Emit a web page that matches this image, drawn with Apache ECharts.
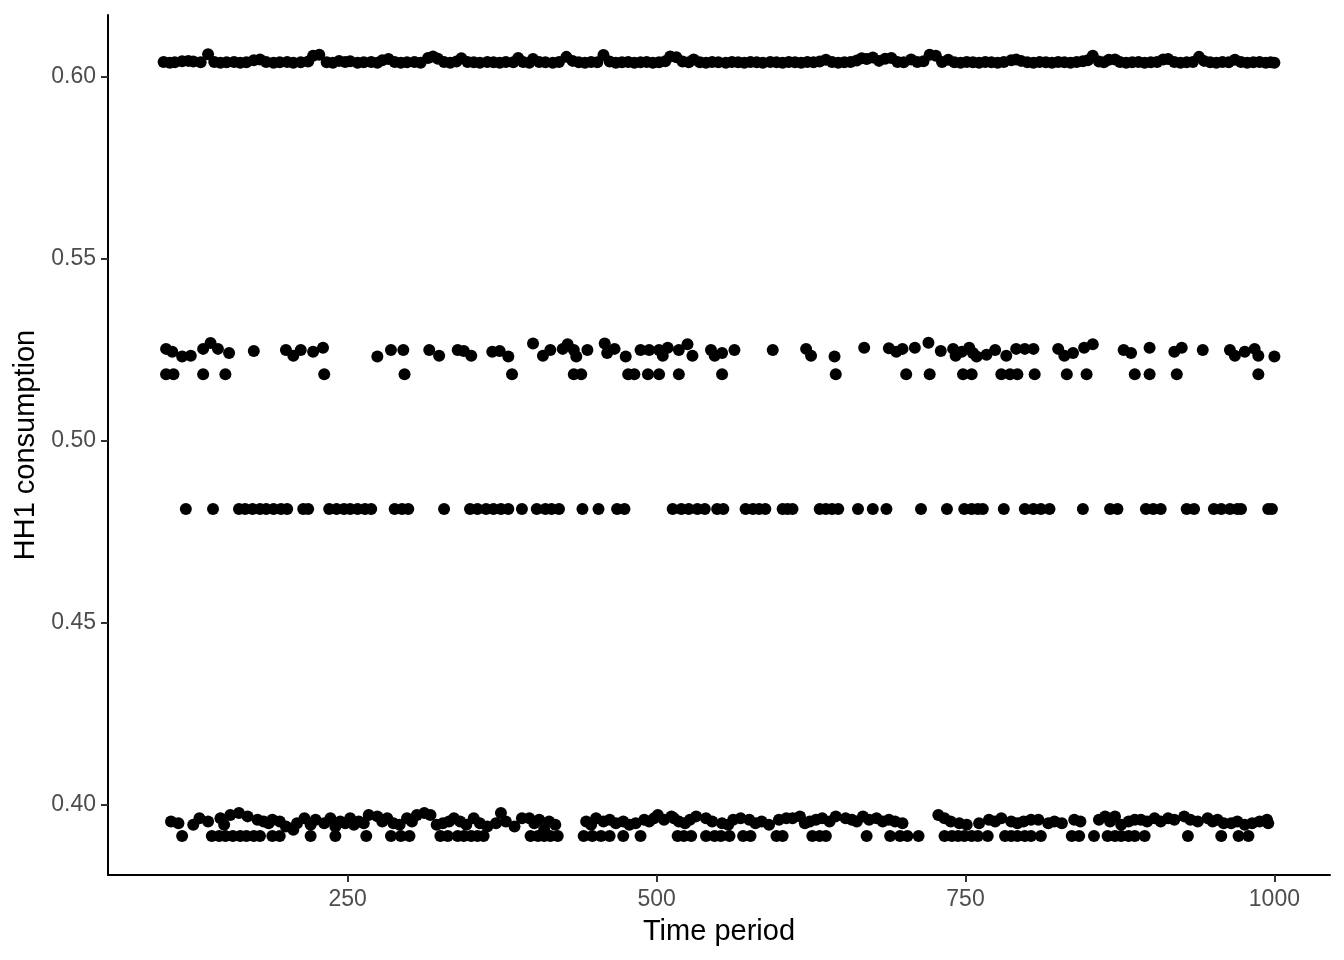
<!DOCTYPE html>
<html><head><meta charset="utf-8">
<script src="https://cdn.jsdelivr.net/npm/echarts@6/dist/echarts.min.js"></script>
<style>html,body{margin:0;padding:0;background:#fff}#c{width:1344px;height:960px}</style>
</head><body><div id="c"></div>
<script>
// Tick labels
const xTicks = [250, 500, 750, 1000];
const yTicks = [0.40, 0.45, 0.50, 0.55, 0.60];

// Top band (~0.604)
const topX = [101,106,110,116,121,125,131,137,142,147,152,158,163,168,174,179,184,190,195,201,206,212,218,222,227,233,238,243,248,252,258,263,269,274,278,283,288,293,298,304,309,315,319,323,328,333,338,342,347,352,357,363,368,373,378,384,388,392,397,400,405,410,416,421,427,432,437,442,447,452,457,462,467,472,477,482,487,492,497,502,507,511,516,521,526,530,535,540,545,550,556,561,566,571,576,581,586,592,597,602,607,612,617,622,627,632,637,642,647,652,657,662,666,670,675,680,685,690,695,700,706,711,716,721,726,731,736,741,746,751,756,761,766,771,776,781,787,791,795,800,805,810,815,820,825,830,835,840,845,849,853,858,862,866,871,875,880,885,890,895,900,905,910,914,919,924,929,934,939,943,948,953,958,963,968,973,978,983,988,993,997,1000];
const topY = [.6041,.6039,.6040,.6043,.6044,.6042,.6040,.6062,.6041,.6039,.6040,.6041,.6039,.6040,.6046,.6048,.6041,.6039,.6040,.6041,.6039,.6040,.6042,.6058,.6061,.6040,.6039,.6044,.6041,.6043,.6039,.6040,.6041,.6039,.6046,.6049,.6041,.6039,.6040,.6041,.6039,.6052,.6056,.6050,.6041,.6039,.6042,.6051,.6041,.6040,.6039,.6041,.6040,.6039,.6041,.6040,.6052,.6041,.6039,.6049,.6041,.6040,.6039,.6041,.6055,.6044,.6040,.6039,.6041,.6040,.6060,.6042,.6039,.6040,.6041,.6039,.6040,.6041,.6039,.6040,.6043,.6056,.6054,.6042,.6040,.6048,.6040,.6039,.6041,.6040,.6039,.6041,.6040,.6039,.6041,.6040,.6039,.6041,.6040,.6039,.6041,.6040,.6039,.6041,.6040,.6042,.6047,.6041,.6039,.6040,.6041,.6045,.6051,.6049,.6053,.6044,.6050,.6052,.6041,.6040,.6048,.6041,.6043,.6061,.6058,.6041,.6047,.6040,.6039,.6041,.6040,.6039,.6041,.6040,.6039,.6041,.6046,.6048,.6044,.6040,.6039,.6041,.6040,.6039,.6041,.6040,.6039,.6041,.6043,.6046,.6058,.6042,.6040,.6047,.6048,.6041,.6039,.6040,.6041,.6039,.6040,.6041,.6048,.6049,.6041,.6039,.6040,.6041,.6055,.6044,.6040,.6039,.6041,.6040,.6047,.6041,.6039,.6040,.6041,.6039,.6040,.6039];

// Second band, upper row (~0.524)
const b2X = [103,108,116,123,133,139,145,154,174,200,206,212,222,230,274,285,295,316,324,339,344,350,367,373,380,400,408,414,424,428,433,435,444,458,460,466,475,487,494,502,505,509,518,525,529,544,547,553,563,594,621,625,644,668,688,694,699,709,720,730,740,742,747,753,756,759,767,774,783,791,798,805,825,830,837,846,853,878,884,899,919,925,942,964,968,976,984,987,1000];
const b2Y = [.5253,.5245,.5232,.5234,.5253,.5269,.5253,.5242,.5247,.5250,.5234,.5250,.5245,.5256,.5232,.5250,.5250,.5250,.5234,.5250,.5247,.5234,.5245,.5247,.5232,.5268,.5234,.5250,.5253,.5266,.5250,.5232,.5250,.5268,.5242,.5253,.5232,.5250,.5250,.5250,.5234,.5256,.5250,.5266,.5234,.5250,.5234,.5242,.5250,.5250,.5253,.5234,.5232,.5256,.5255,.5245,.5253,.5256,.5270,.5247,.5253,.5234,.5245,.5256,.5242,.5232,.5237,.5250,.5234,.5253,.5253,.5253,.5253,.5234,.5242,.5256,.5266,.5250,.5242,.5256,.5245,.5256,.5250,.5250,.5234,.5245,.5253,.5234,.5232];

// Second band, lower row
const b2LowLevel = 0.5183;
const b2LowX = [103,109,133,151,231,296,383,433,439,477,482,493,502,518,553,645,702,721,748,755,779,786,792,806,832,848,887,899,921,987];

// Third band (~0.481)
const b3Level = 0.4813;
const b3X = [119,141,162,167,173,179,184,190,196,201,214,218,235,241,247,252,258,264,269,288,294,299,328,349,355,362,368,374,380,391,403,410,415,421,440,453,468,474,513,520,526,533,539,549,554,572,578,583,588,602,606,610,632,637,642,647,663,675,686,714,735,749,755,760,764,781,798,805,811,818,845,867,873,896,902,908,929,935,951,957,964,970,973,995,998];

// Bottom band, upper rows (~0.394-0.398)
const b4X = [107,113,125,130,137,147,150,155,162,169,177,182,186,189,195,200,206,209,215,220,224,231,236,240,244,248,252,255,259,263,267,274,278,282,287,292,298,302,306,312,317,322,327,332,336,341,346,352,357,363,370,374,378,385,391,397,401,405,409,413,418,443,447,451,457,462,467,473,478,483,490,494,498,501,506,512,514,518,523,527,532,540,545,553,558,562,568,575,580,585,591,599,605,610,616,620,624,629,634,640,645,653,658,662,667,672,678,683,688,693,699,728,733,738,745,751,761,769,774,779,787,792,797,803,809,817,822,828,838,843,858,863,867,871,876,882,887,892,897,903,908,914,919,927,932,938,946,950,954,959,965,970,976,982,988,994,995];
const b4Y = [.3955,.3950,.3946,.3964,.3955,.3964,.3946,.3973,.3978,.3969,.3960,.3955,.3950,.3960,.3955,.3941,.3932,.3950,.3964,.3946,.3960,.3950,.3964,.3941,.3955,.3950,.3964,.3946,.3955,.3950,.3973,.3969,.3955,.3964,.3950,.3946,.3964,.3955,.3973,.3978,.3973,.3946,.3950,.3955,.3964,.3955,.3946,.3964,.3950,.3941,.3950,.3978,.3955,.3941,.3964,.3964,.3950,.3960,.3932,.3955,.3946,.3955,.3946,.3964,.3955,.3960,.3950,.3955,.3946,.3950,.3960,.3955,.3964,.3973,.3960,.3969,.3964,.3955,.3950,.3960,.3969,.3964,.3955,.3950,.3946,.3960,.3964,.3960,.3950,.3955,.3946,.3960,.3964,.3964,.3969,.3950,.3955,.3960,.3964,.3955,.3969,.3964,.3960,.3955,.3969,.3960,.3964,.3955,.3960,.3955,.3950,.3973,.3964,.3955,.3950,.3946,.3950,.3960,.3955,.3964,.3955,.3950,.3955,.3960,.3960,.3950,.3955,.3950,.3960,.3955,.3960,.3969,.3955,.3969,.3946,.3955,.3960,.3960,.3955,.3964,.3955,.3964,.3960,.3969,.3960,.3955,.3964,.3955,.3960,.3950,.3950,.3955,.3946,.3950,.3955,.3960,.3950];

// Bottom band, lower row
const b4LowLevel = 0.3915;
const b4LowX = [116,140,146,151,157,163,168,174,179,189,195,220,240,265,285,293,300,325,331,339,344,350,355,360,398,404,409,414,420,441,448,455,462,473,487,517,522,528,540,547,552,559,570,576,597,602,626,632,637,670,689,697,703,712,733,739,744,749,755,760,768,782,787,792,798,803,811,836,842,854,865,871,876,882,887,895,930,957,971,979];

const pts = [];
topX.forEach((x, i) => pts.push([x, topY[i]]));
b2X.forEach((x, i) => pts.push([x, b2Y[i]]));
b2LowX.forEach(x => pts.push([x, b2LowLevel]));
b3X.forEach(x => pts.push([x, b3Level]));
b4X.forEach((x, i) => pts.push([x, b4Y[i]]));
b4LowX.forEach(x => pts.push([x, b4LowLevel]));

const FONT = 'Liberation Sans, Arial, Helvetica, sans-serif';
const chart = echarts.init(document.getElementById('c'), null, {renderer: 'canvas'});
chart.setOption({
  animation: false,
  backgroundColor: '#ffffff',
  grid: {left: 108, right: 14, top: 15, bottom: 85, containLabel: false},
  xAxis: {
    type: 'value', min: 56, max: 1045,
    name: 'Time period', nameLocation: 'middle', nameGap: 42,
    nameTextStyle: {color: '#000', fontSize: 29, fontFamily: FONT},
    axisLine: {show: true, lineStyle: {color: '#000', width: 2}},
    axisTick: {show: true, customValues: xTicks, length: 7, lineStyle: {color: '#333', width: 2}},
    axisLabel: {customValues: xTicks, color: '#4d4d4d', fontSize: 23, fontFamily: FONT, margin: 13,
      formatter: v => String(Math.round(v))},
    splitLine: {show: false}
  },
  yAxis: {
    type: 'value', min: 0.3808, max: 0.6170,
    name: 'HH1 consumption', nameLocation: 'middle', nameGap: 63,
    nameTextStyle: {color: '#000', fontSize: 29, fontFamily: FONT},
    axisLine: {show: true, lineStyle: {color: '#000', width: 2}},
    axisTick: {show: true, customValues: yTicks, length: 7, lineStyle: {color: '#333', width: 2}},
    axisLabel: {customValues: yTicks, color: '#4d4d4d', fontSize: 23, fontFamily: FONT, margin: 12,
      formatter: v => v.toFixed(2)},
    splitLine: {show: false}
  },
  series: [{
    type: 'scatter', data: pts, symbol: 'circle', symbolSize: 12,
    itemStyle: {color: '#000', opacity: 1}, silent: true
  }]
});
</script></body></html>
